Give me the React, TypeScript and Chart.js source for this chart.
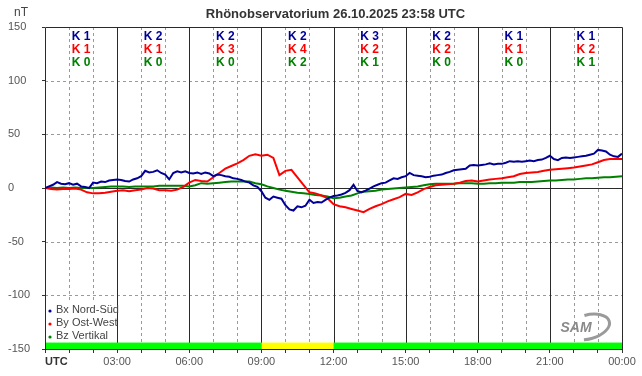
import { useEffect, useRef } from "react";
import { Chart, registerables } from "chart.js";
Chart.register(...registerables);

// ---- data ----
// Bx: 10-minute samples, By / Bz: 15-minute samples, 00:00 .. 24:00 UTC
const BX_STEP_H = 1 / 6;
const STEP_H = 0.25;
const bx = [
  0, 1.5, 3, 5.5, 4, 3.5,
  4.5, 3, 4, 1.5, 1, 0,
  5, 4.5, 6, 5.5, 7, 7.5,
  8, 7.5, 6.5, 6, 8, 9,
  11, 16, 14.5, 15, 16.5, 14,
  12.5, 8, 14, 15.5, 14.5, 15.5,
  14, 13.5, 14.5, 13, 14.5, 13.5,
  11, 12.5, 12, 11, 10.5, 9,
  8.5, 7.5, 6, 5, 2.5, 1,
  -3, -9, -11, -8, -9, -10,
  -16, -20, -21, -17, -18, -16.5,
  -11, -14, -13, -13.5, -11, -9,
  -7.5, -7, -6, -4.5, -2, 3,
  -3, -4, -2.5, -0.5, 1.5, 3,
  4.5, 5, 7, 9, 8.5, 10,
  11, 14, 12, 11.5, 11, 10,
  10.5, 11.5, 12, 12.5, 14, 15,
  16.5, 17, 17.5, 18, 21, 21.5,
  21, 21.5, 22, 23, 22, 22.5,
  22.5, 23.5, 25, 24.5, 25, 24.5,
  25, 25.5, 25, 26, 26.5, 28,
  30, 27, 26, 28, 28.5, 28,
  28.5, 29, 29.5, 30, 31, 32,
  35.5, 35, 34, 31, 29.5, 29,
  32,
];
const by = [
  0, -1, -1.5, -1, -1, -0.5, -1.5, -4, -5, -5, -4.5, -3.5, -2.5, -2, -3, -2,
  -1.5, 0, -0.5, -2, -2, -2.5, -1.5, 1, 5, 7.5, 6.5, 6, 10, 14, 18, 20.5,
  23, 26, 30, 31.5, 30, 31, 28, 12, 16, 17, 10, 3, -4, -5, -7, -9.5,
  -15, -17, -18, -19.5, -21, -22.5, -19.5, -17, -15, -12.5, -10.5, -8.5, -5.5, -6.5, -4, -1,
  1, 2.5, 3, 3.5, 4, 5, 6.5, 7, 6, 7, 8, 8.5, 9, 10, 11, 13,
  14, 14.5, 15, 16, 17, 17.5, 18, 18.5, 19, 20, 21, 22, 24, 26, 27, 27,
  27,
];
const bz = [
  0, 0.5, 0, 0.5, 0, 0.5, 0, 0, 0, 0.5, 1, 1.5, 1.5, 1.5, 1, 1.5,
  1.5, 1.5, 1.5, 2, 2, 2, 2, 2, 1.5, 2.5, 4.5, 4, 4.5, 5, 5.5, 6,
  6, 6, 6, 4.5, 3.5, 1.5, 0, -1.5, -2.5, -3.5, -4.5, -5, -5.5, -6.5, -7, -8,
  -9.5, -9, -8, -7, -5, -3.5, -3, -2.5, -1.5, -1, -0.5, 0, 0.5, 1, 1.5, 2.5,
  3.5, 4, 4, 4, 4, 4.5, 4.5, 4.5, 4, 4, 4.5, 4.5, 5, 5, 5, 5.5,
  5.5, 5.5, 6, 6.5, 7, 7, 7.5, 8, 8, 8.5, 9, 9, 9.5, 10, 10, 10.5,
  11,
];

const seriesNames = ["Bx Nord-Süd", "By Ost-West", "Bz Vertikal"];
const seriesColors = ["#000099", "#ff0000", "#008000"];

// K indices per 3-hour block
const kBx = [1, 2, 2, 2, 3, 2, 1, 1];
const kBy = [1, 1, 3, 4, 2, 2, 1, 2];
const kBz = [0, 0, 0, 2, 1, 0, 0, 1];

// x tick labels at every 3 hours (index = hour / 3)
const xTickLabels = ["", "03:00", "06:00", "09:00", "12:00", "15:00", "18:00", "21:00", "00:00"];
const xStartLabel = "UTC";

// status band along the bottom
const bandFrom = [0, 9, 12];
const bandTo = [9, 12, 24];
const bandColor = ["#00ff00", "#ffff00", "#00ff00"];

const titleText = "Rhönobservatorium 26.10.2025 23:58 UTC";
const unitText = "nT";
const logoText = "SAM";

const FONT = "'Liberation Sans', Arial, sans-serif";

const decorPlugin = {
  id: "decor",
  beforeDatasetsDraw(chart: any) {
    const { ctx, chartArea: a, scales } = chart;
    const x = scales.x;
    const y = scales.y;
    const px = (v: number) => Math.round(x.getPixelForValue(v)) + 0.5;
    const py = (v: number) => Math.round(y.getPixelForValue(v)) + 0.5;
    ctx.save();
    ctx.lineWidth = 1;
    // dashed hour lines
    ctx.strokeStyle = "#9a9a9a";
    ctx.setLineDash([3, 3]);
    for (let h = 1; h < 24; h++) {
      if (h % 3 === 0) continue;
      ctx.beginPath();
      ctx.moveTo(px(h), a.top);
      ctx.lineTo(px(h), a.bottom);
      ctx.stroke();
    }
    for (let v = -100; v <= 100; v += 50) {
      if (v === 0) continue;
      ctx.beginPath();
      ctx.moveTo(a.left, py(v));
      ctx.lineTo(a.right, py(v));
      ctx.stroke();
    }
    ctx.setLineDash([]);
    // legend background
    ctx.fillStyle = "#fff";
    ctx.fillRect(a.left + 1, a.bottom - 47, x.getPixelForValue(3) - a.left - 2, 40);
    // solid 3-hour lines and zero line
    ctx.strokeStyle = "#2a2a2a";
    for (let h = 3; h < 24; h += 3) {
      ctx.beginPath();
      ctx.moveTo(px(h), a.top);
      ctx.lineTo(px(h), a.bottom);
      ctx.stroke();
    }
    ctx.beginPath();
    ctx.moveTo(a.left, py(0));
    ctx.lineTo(a.right, py(0));
    ctx.stroke();
    // band
    for (let i = 0; i < bandFrom.length; i++) {
      const x0 = x.getPixelForValue(bandFrom[i]);
      const x1 = x.getPixelForValue(bandTo[i]);
      const y0 = y.getPixelForValue(-144);
      const y1 = y.getPixelForValue(-150);
      ctx.fillStyle = bandColor[i];
      ctx.fillRect(x0, y0, x1 - x0, y1 - y0);
    }
    // frame
    ctx.strokeStyle = "#2a2a2a";
    ctx.beginPath();
    ctx.moveTo(px(0), py(-150));
    ctx.lineTo(px(0), py(150));
    ctx.lineTo(px(24), py(150));
    ctx.lineTo(px(24), py(-150));
    ctx.lineTo(px(0), py(-150));
    ctx.stroke();
    // legend
    ctx.font = `11px ${FONT}`;
    ctx.textAlign = "left";
    ctx.textBaseline = "middle";
    seriesNames.forEach((n, j) => {
      const yy = a.bottom - 39 + j * 13;
      ctx.fillStyle = seriesColors[j];
      ctx.beginPath();
      ctx.arc(a.left + 5, yy + 1, 1.6, 0, Math.PI * 2);
      ctx.fill();
      ctx.fillStyle = "#444";
      ctx.fillText(n, a.left + 11, yy);
    });
    ctx.restore();
  },
  afterDraw(chart: any) {
    const { ctx, chartArea: a, scales } = chart;
    const x = scales.x;
    ctx.save();
    // title
    ctx.fillStyle = "#333";
    ctx.textAlign = "center";
    ctx.textBaseline = "middle";
    ctx.font = `bold 13px ${FONT}`;
    ctx.fillText(titleText, (a.left + a.right) / 2 + 2, 14);
    // unit
    ctx.font = `12px ${FONT}`;
    ctx.fillStyle = "#444";
    ctx.fillText(unitText, 21, 13);
    // K indices
    ctx.font = `bold 12px ${FONT}`;
    const rows = [kBx, kBy, kBz];
    for (let b = 0; b < 8; b++) {
      const cx = x.getPixelForValue(b * 3 + 1.5);
      rows.forEach((r, j) => {
        ctx.fillStyle = seriesColors[j];
        ctx.fillText(`K ${r[b]}`, cx, a.top + 10 + j * 13);
      });
    }
    // UTC label
    ctx.font = `bold 11px ${FONT}`;
    ctx.fillStyle = "#333";
    ctx.textAlign = "left";
    ctx.fillText(xStartLabel, a.left, 362);
    // logo
    ctx.strokeStyle = "#9a9a9a";
    ctx.lineWidth = 3;
    ctx.beginPath();
    ctx.ellipse(a.right - 34, a.bottom - 22, 22, 12, -0.25, -1.6, 1.9);
    ctx.stroke();
    ctx.font = `italic bold 14px ${FONT}`;
    ctx.fillStyle = "#8a8a8a";
    ctx.textAlign = "center";
    ctx.fillText(logoText, a.right - 46, a.bottom - 21);
    ctx.restore();
  },
};

export default function App() {
  const ref = useRef<HTMLCanvasElement>(null);
  useEffect(() => {
    document.body.style.margin = "0";
    const mk = (arr: number[], step: number) => arr.map((v, i) => ({ x: i * step, y: v }));
    const series = [mk(bx, BX_STEP_H), mk(by, STEP_H), mk(bz, STEP_H)];
    const chart = new Chart(ref.current!, {
      type: "line",
      data: {
        datasets: series.map((d, j) => ({
          label: seriesNames[j],
          data: d,
          borderColor: seriesColors[j],
          backgroundColor: seriesColors[j],
          borderWidth: 2,
          pointRadius: 0,
          tension: 0,
        })),
      },
      options: {
        responsive: false,
        animation: false,
        devicePixelRatio: 1,
        layout: { padding: { left: 8, right: 20, top: 27, bottom: 0 } },
        plugins: {
          legend: { display: false },
          title: { display: false },
          tooltip: { enabled: false },
        },
        scales: {
          x: {
            type: "linear",
            min: 0,
            max: 24,
            afterBuildTicks: (s: any) => {
              s.ticks = Array.from({ length: 25 }, (_, i) => ({ value: i }));
            },
            ticks: {
              autoSkip: false,
              maxRotation: 0,
              padding: 2,
              color: "#555",
              font: { family: FONT, size: 11 },
              callback: (v: any) => (v % 3 === 0 ? xTickLabels[v / 3] : ""),
            },
            grid: { drawOnChartArea: false, drawTicks: true, tickLength: 4, tickColor: "#333", color: "#333" },
            border: { display: false },
            afterFit: (s: any) => {
              s.height = 27;
            },
          },
          y: {
            min: -150,
            max: 150,
            ticks: {
              stepSize: 50,
              crossAlign: "far",
              color: "#555",
              font: { family: FONT, size: 11 },
            },
            grid: { drawOnChartArea: false, drawTicks: true, tickLength: 3, tickColor: "#333", color: "#333" },
            border: { display: false },
            afterFit: (s: any) => {
              s.width = 37;
            },
          },
        },
      },
      plugins: [decorPlugin],
    } as any);
    return () => chart.destroy();
  }, []);
  return (
    <div style={{ width: 642, height: 376, background: "#fff" }}>
      <canvas ref={ref} width={642} height={376} style={{ display: "block" }} />
    </div>
  );
}
